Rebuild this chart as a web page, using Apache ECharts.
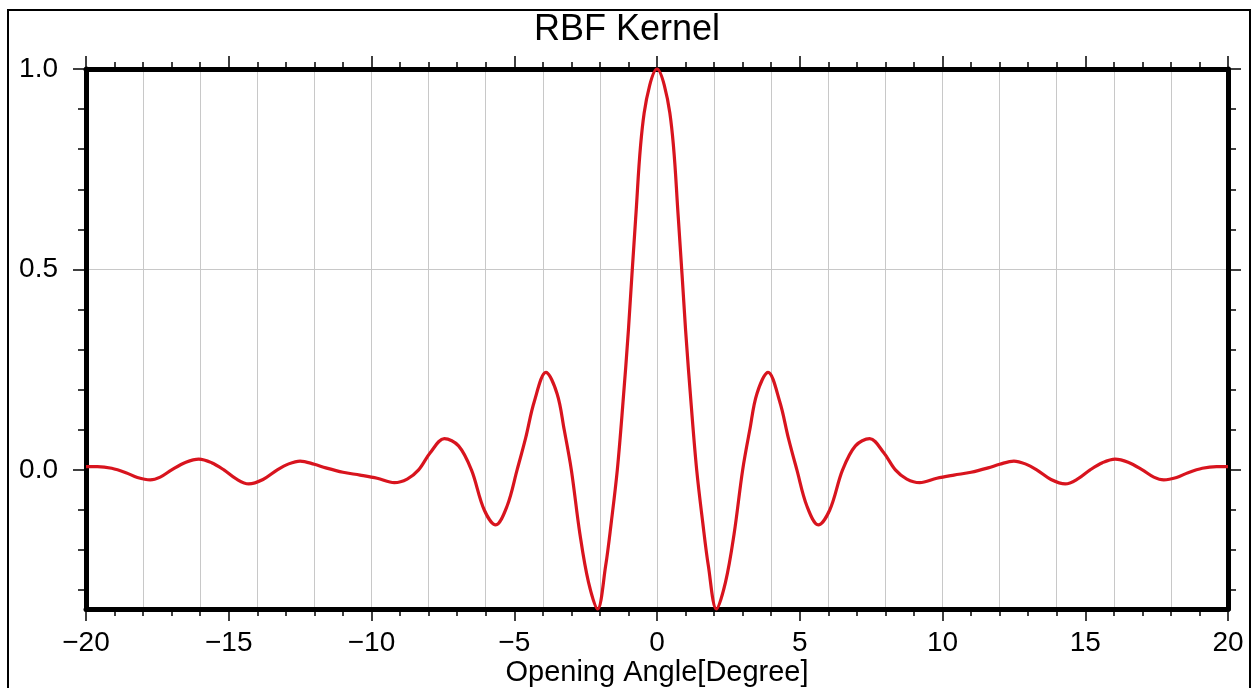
<!DOCTYPE html>
<html>
<head>
<meta charset="utf-8">
<script src="https://cdn.jsdelivr.net/npm/echarts@6/dist/echarts.min.js"></script>
<style>
  html, body { margin: 0; padding: 0; background: #fff; }
  #main { width: 1254px; height: 688px; }
</style>
</head>
<body>
<div id="main"></div>
<script>
// opening angle (degree) and kernel value
// (points picked at the peaks, troughs, zero crossings and a few in between)
let angle = [-20, -19.6, -19.1, -18.6, -18.2, -17.75, -17.4, -17, -16.5, -16.05, -15.6, -15.17, -14.75, -14.3, -13.8, -13.3, -12.9, -12.5, -12, -11.6,
  -11, -10.4, -9.8, -9.2, -8.75, -8.35, -7.95, -7.45, -6.95, -6.5, -6.05, -5.65, -5.25, -4.9, -4.6, -4.3, -3.89, -3.5, -3.25, -3,
  -2.7, -2.4, -2.08, -1.8, -1.6, -1.39, -1.2, -1, -0.75, -0.45,
  0,
  0.45, 0.75, 1, 1.2, 1.39, 1.6, 1.8, 2.08, 2.4, 2.7,
  3, 3.25, 3.5, 3.89, 4.3, 4.6, 4.9, 5.25, 5.65, 6.05, 6.5, 6.95, 7.45, 7.95, 8.35, 8.75, 9.2, 9.8, 10.4, 11,
  11.6, 12, 12.5, 12.9, 13.3, 13.8, 14.3, 14.75, 15.17, 15.6, 16.05, 16.5, 17, 17.4, 17.75, 18.2, 18.6, 19.1, 19.6, 20];
let kernel = [0.008, 0.008, 0.004, -0.007, -0.019, -0.025, -0.018, 0, 0.019, 0.027, 0.018, 0, -0.022, -0.035, -0.024, 0, 0.015, 0.022, 0.014, 0.005,
  -0.006, -0.013, -0.021, -0.032, -0.023, 0, 0.042, 0.078, 0.06, 0, -0.1, -0.137, -0.09, 0, 0.08, 0.17, 0.243, 0.19, 0.10, 0,
  -0.16, -0.28, -0.347, -0.24, -0.13, 0, 0.16, 0.35, 0.625, 0.89,
  1.0,
  0.89, 0.625, 0.35, 0.16, 0, -0.13, -0.24, -0.347, -0.28, -0.16,
  0, 0.10, 0.19, 0.243, 0.17, 0.08, 0, -0.09, -0.137, -0.1, 0, 0.06, 0.078, 0.042, 0, -0.023, -0.032, -0.021, -0.013, -0.006,
  0.005, 0.014, 0.022, 0.015, 0, -0.024, -0.035, -0.022, 0, 0.018, 0.027, 0.019, 0, -0.018, -0.025, -0.019, -0.007, 0.004, 0.008, 0.008];

// y axis ticks / labels
let yLabels = [0, 0.5, 1];
let yMajorTicks = [0, 0.5, 1];
let yMinorTicks = [-0.3, -0.2, -0.1, 0, 0.1, 0.2, 0.3, 0.4, 0.5, 0.6, 0.7, 0.8, 0.9, 1];

let font = '"Liberation Sans", Arial, Helvetica, sans-serif';
let black = '#000';
let gridGray = '#c8c8c8';

let myChart = echarts.init(document.getElementById('main'), null, { renderer: 'canvas' });

function minus(v) {
    return String(v).replace('-', '\u2212');
}

// x axes: 0 bottom ticks+labels, 1 grid every 2, 2 top ticks
let xBase = { type: 'value', min: -20, max: 20, gridIndex: 0 };
let yBase = { type: 'value', min: -0.347, max: 1, gridIndex: 0 };

let option = {
    animation: false,
    backgroundColor: '#fff',
    title: {
        text: 'RBF Kernel',
        left: 'center',
        top: 12,
        padding: 0,
        textStyle: { fontFamily: font, fontSize: 36, fontWeight: 'normal', color: black }
    },
    graphic: [{
        type: 'rect',
        shape: { x: 8, y: 10, width: 1242, height: 700 },
        style: { fill: 'none', stroke: black, lineWidth: 2 },
        silent: true, z: -1
    }],
    grid: { left: 86, right: 26, top: 69, bottom: 79, containLabel: false, outerBoundsMode: 'none' },
    xAxis: [
        Object.assign({}, xBase, {
            position: 'bottom',
            interval: 5,
            name: 'Opening Angle[Degree]',
            nameLocation: 'middle',
            nameGap: 49,
            nameMoveOverlap: false,
            nameTextStyle: { fontFamily: font, fontSize: 29, color: black },
            axisLine: { show: true, onZero: false, lineStyle: { color: black, width: 5 } },
            axisTick: { show: true, inside: false, length: 12, lineStyle: { color: black, width: 1.5 } },
            minorTick: { show: true, splitNumber: 5, length: 7, lineStyle: { color: black, width: 1.5 } },
            axisLabel: { show: true, margin: 20, fontFamily: font, fontSize: 28, color: black, formatter: minus },
            splitLine: { show: false }
        }),
        Object.assign({}, xBase, {
            position: 'bottom',
            interval: 2,
            axisLine: { show: false, onZero: false },
            axisTick: { show: false },
            axisLabel: { show: false },
            splitLine: { show: true, showMinLine: false, showMaxLine: false, lineStyle: { color: gridGray, width: 1 } }
        }),
        Object.assign({}, xBase, {
            position: 'top',
            interval: 5,
            axisLine: { show: true, onZero: false, lineStyle: { color: black, width: 5 } },
            axisTick: { show: true, inside: false, length: 13, lineStyle: { color: black, width: 1.5 } },
            minorTick: { show: true, splitNumber: 5, length: 7, lineStyle: { color: black, width: 1.5 } },
            axisLabel: { show: false },
            splitLine: { show: false }
        })
    ],
    yAxis: [
        Object.assign({}, yBase, {
            position: 'left',
            axisLine: { show: true, onZero: false, lineStyle: { color: black, width: 5 } },
            axisTick: { show: true, inside: false, length: 8, customValues: yMinorTicks, lineStyle: { color: black, width: 1.5 } },
            axisLabel: { show: true, margin: 28, customValues: yLabels, fontFamily: font, fontSize: 28, color: black,
                formatter: function (v) { return minus(v.toFixed(1)); } },
            splitLine: { show: false }
        }),
        Object.assign({}, yBase, {
            position: 'left',
            axisLine: { show: false, onZero: false },
            axisTick: { show: true, inside: false, length: 13, customValues: yMajorTicks, lineStyle: { color: black, width: 1.5 } },
            axisLabel: { show: false },
            splitLine: { show: true, showMinLine: false, showMaxLine: false, lineStyle: { color: gridGray, width: 1 } }
        }),
        Object.assign({}, yBase, {
            position: 'right',
            axisLine: { show: true, onZero: false, lineStyle: { color: black, width: 5 } },
            axisTick: { show: true, inside: false, length: 8, customValues: yMinorTicks, lineStyle: { color: black, width: 1.5 } },
            axisLabel: { show: false },
            splitLine: { show: false }
        }),
        Object.assign({}, yBase, {
            position: 'right',
            axisLine: { show: false, onZero: false },
            axisTick: { show: true, inside: false, length: 13, customValues: yMajorTicks, lineStyle: { color: black, width: 1.5 } },
            axisLabel: { show: false },
            splitLine: { show: false }
        })
    ],
    series: [{
        type: 'line',
        xAxisIndex: 0,
        yAxisIndex: 0,
        data: angle.map(function (a, i) { return [a, kernel[i]]; }),
        showSymbol: false,
        smooth: 0.35,
        clip: false,
        lineStyle: { color: '#d8141e', width: 3.2 },
        z: 1
    }]
};

myChart.setOption(option);
</script>
</body>
</html>
